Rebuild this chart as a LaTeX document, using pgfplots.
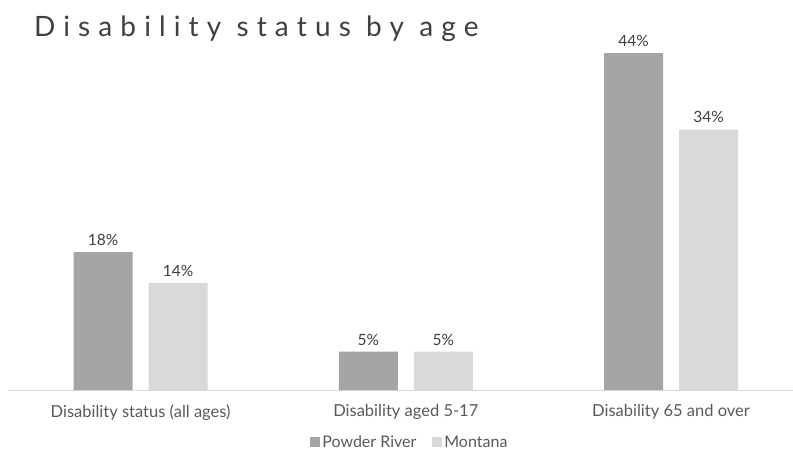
\documentclass[border=0pt]{standalone}
\usepackage{pgfplots}
\pgfplotsset{compat=1.18}
\usepackage{fontspec}
\setmainfont{Lato}
\newfontfamily\titlefont[LetterSpace=29]{Lato}
\definecolor{darkbar}{HTML}{A5A5A5}
\definecolor{lightbar}{HTML}{D9D9D9}
\definecolor{txt}{HTML}{595959}
\definecolor{ttl}{HTML}{404040}
\begin{document}
\begin{tikzpicture}[x=1pt,y=1pt]
\useasboundingbox (0,0) rectangle (793,453);
\node[anchor=base west, text=ttl, inner sep=0pt] at (34,416) {\titlefont\fontsize{28}{32}\selectfont Disability status by age};
\begin{axis}[
  at={(8pt,63pt)}, anchor=south west,
  scale only axis, width=785pt, height=350pt,
  ymin=0, ymax=45.7,
  xmin=-0.5, xmax=2.46,
  ybar=16pt, bar width=59pt,
  hide y axis,
  axis x line*=bottom,
  x axis line style={draw=lightbar, line width=1pt, -},
  xtick={0,1,2},
  xticklabels={Disability status (all ages), Disability aged 5-17, Disability 65 and over},
  major tick length=0pt,
  /pgf/number format/assume math mode=true,
  xticklabel style={font=\fontsize{16.5}{19}\selectfont, text=txt, yshift=-11pt},
  nodes near coords={\pgfmathprintnumber{\pgfplotspointmeta}\%},
  every node near coord/.append style={font=\fontsize{15.5}{18}\selectfont, text=ttl, yshift=3pt},
  legend style={at={(axis description cs:0.512,-0.149)}, anchor=center, draw=none, legend columns=2, font=\fontsize{16}{19}\selectfont, text=txt, /tikz/every even column/.append style={column sep=14pt}},
  legend image code/.code={\fill[#1] (0pt,-5pt) rectangle (10pt,5pt);},
  clip=false,
]
\addplot[fill=darkbar, draw=none] coordinates {(0,18) (1,5) (2,44)};
\addplot[fill=lightbar, draw=none] coordinates {(0,14) (1,5) (2,34)};
\legend{Powder River, Montana}
\end{axis}
\end{tikzpicture}
\end{document}
